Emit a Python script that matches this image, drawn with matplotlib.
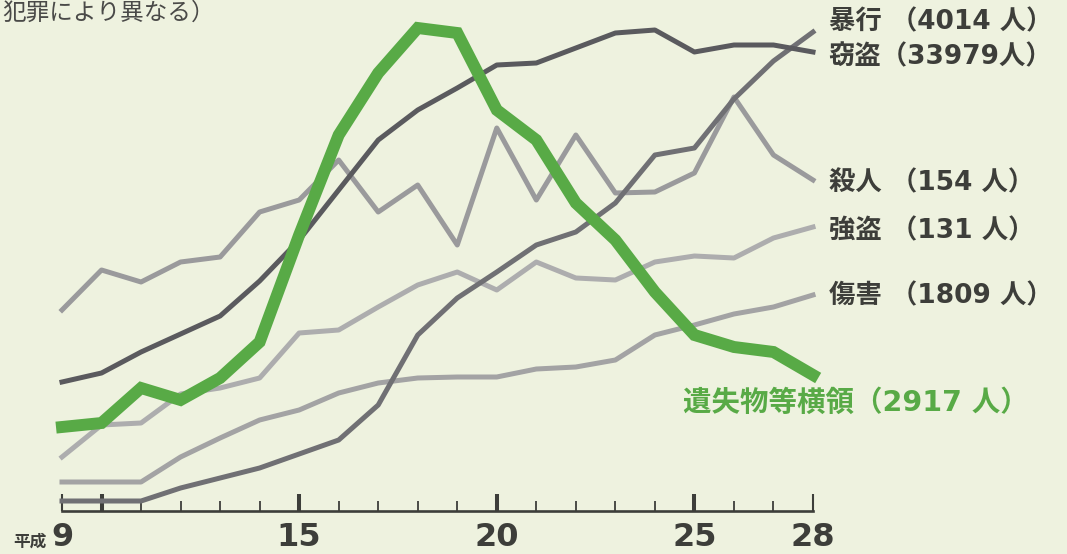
import matplotlib
matplotlib.use('Agg')
import matplotlib.pyplot as plt

plt.rcParams['font.family'] = ['DejaVu Sans', 'Noto Sans CJK JP']

# 年（平成）
years = list(range(9, 29))

# 各犯罪の推移（目盛りなしの相対値、グラフ下端からの高さ）
settou = [129, 138, 159, 177, 195, 230, 271, 321, 371, 401, 423, 446, 448, 463, 478, 481, 459, 466, 466, 459]
bouko = [10, 10, 10, 23, 33, 43, 57, 71, 106, 176, 213, 239, 266, 279, 308, 356, 363, 412, 450, 479]
satsujin = [201, 241, 229, 249, 254, 299, 311, 351, 299, 326, 266, 383, 311, 376, 318, 319, 338, 414, 356, 331]
goutou = [54, 86, 88, 117, 123, 133, 178, 181, 204, 226, 239, 221, 249, 233, 231, 249, 255, 253, 273, 284]
shougai = [29, 29, 29, 54, 73, 91, 101, 118, 128, 133, 134, 134, 142, 144, 151, 176, 186, 197, 204, 216]
ishitsu = [84, 88, 123, 111, 133, 169, 276, 376, 438, 483, 478, 401, 371, 308, 271, 219, 176, 164, 159, 136]

labels = ['暴行 （4014 人）', '窃盗（33979人）', '殺人 （154 人）', '強盗 （131 人）', '傷害 （1809 人）']
green_label = '遺失物等横領（2917 人）'

bg = '#eef2df'
ink = '#3d3e3a'
green = '#58aa46'

W, H = 1067, 554
fig = plt.figure(figsize=(W / 100, H / 100), dpi=100, facecolor=bg)
ax = fig.add_axes([62 / W, (H - 511) / H, (813 - 62) / W, 511 / H])
ax.set_facecolor(bg)
ax.set_xlim(9, 28)
ax.set_ylim(0, 511)

# 灰色の線
ax.plot(years, shougai, color='#a3a3a4', lw=3.6, clip_on=False)
ax.plot(years, goutou, color='#adadae', lw=3.6, clip_on=False)
ax.plot(years, satsujin, color='#9a9a9c', lw=3.6, clip_on=False)
ax.plot(years, bouko, color='#707074', lw=3.6, clip_on=False)
ax.plot(years, settou, color='#5a5a5e', lw=3.6, clip_on=False)
# 緑の太線
ax.plot(years, ishitsu, color=green, lw=8.6, clip_on=False, solid_joinstyle='miter')

# 軸
for s in ['top', 'right', 'left']:
    ax.spines[s].set_visible(False)
ax.spines['bottom'].set_color(ink)
ax.spines['bottom'].set_linewidth(1.9)
ax.set_yticks([])

major = [9, 10, 15, 20, 25, 28]
ax.set_xticks(major)
ax.set_xticklabels(['9', '', '15', '20', '25', '28'])
ax.set_xticks([y for y in years if y not in major], minor=True)
ax.tick_params(axis='x', which='major', direction='in', length=12, width=2.9,
               color=ink, pad=8, labelsize=23, labelcolor=ink)
ax.tick_params(axis='x', which='minor', direction='in', length=7, width=1.3, color=ink)
for t in ax.get_xticklabels():
    t.set_fontweight('heavy')
ticks = ax.xaxis.get_major_ticks()
ticks[0].tick1line.set_markeredgewidth(1.5)
ticks[-1].tick1line.set_markeredgewidth(1.5)

fig.text(30 / W, 1 - 542 / H, '平成', fontsize=12, color=ink, ha='center', va='center',
         family=['Noto Sans CJK JP'], fontweight='bold')

# ラベル
def px(x, y):
    return 9 + (x - 62) / 39.5, 511 - y

label_pos = [(828, 22), (828, 57), (828, 183), (828, 231), (828, 296)]
for text, (x, y) in zip(labels, label_pos):
    ax.text(*px(x, y), text, fontsize=19, fontweight='bold', color=ink,
            ha='left', va='center')
ax.text(*px(683, 403), green_label, fontsize=20.5, fontweight='bold', color=green,
        ha='left', va='center')

fig.text(2 / W, 1 - 13 / H, '犯罪により異なる）', fontsize=17, color='#4a4a48',
         ha='left', va='center', family=['Noto Sans CJK JP'])

fig.savefig('out.png', dpi=100, facecolor=bg)
